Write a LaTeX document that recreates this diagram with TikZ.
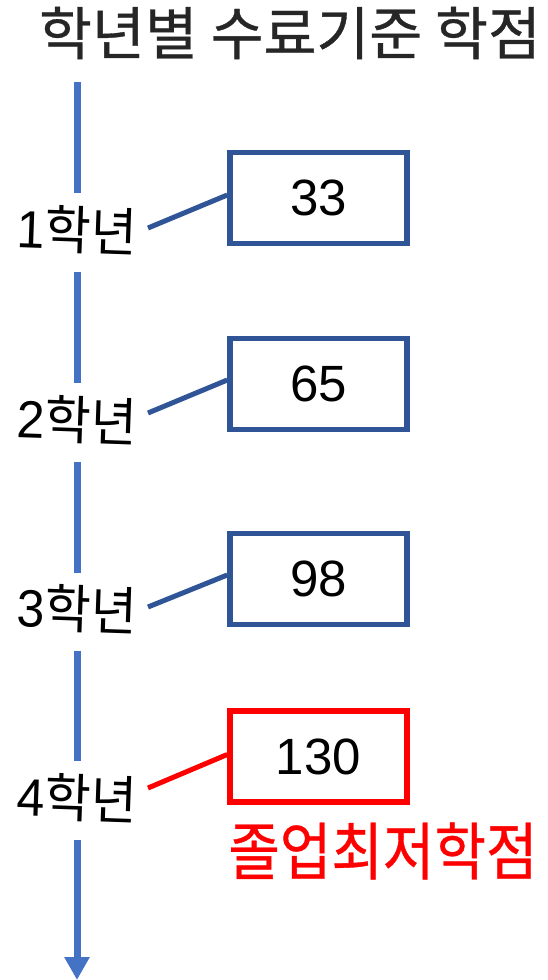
\documentclass[tikz,border=0pt]{standalone}
\usepackage{fontspec}
\setmainfont{Liberation Sans}
\newfontfamily\kr{Noto Sans CJK KR}
\newfontfamily\krb[FakeBold=0.6]{Noto Sans CJK KR}
\usetikzlibrary{arrows.meta}
\definecolor{axisblue}{HTML}{4472C4}
\definecolor{boxblue}{HTML}{2F5597}
\definecolor{titlegray}{HTML}{262626}
\tikzset{
  axisline/.style={draw=axisblue, line width=7pt},
  valbox/.style={draw=boxblue, line width=5.5pt, minimum width=177pt, minimum height=91pt, inner sep=0pt,
    font=\fontsize{51}{56}\selectfont},
  redbox/.style={valbox, draw=red},
  yearlabel/.style={inner sep=0pt, rotate=-2, yscale=1.05, font=\fontsize{50}{56}\selectfont},
  conn/.style={draw=boxblue, line width=5pt},
  redconn/.style={draw=red, line width=5pt},
}
\begin{document}
\begin{tikzpicture}[x=1pt, y=-1pt]
\path[use as bounding box] (0,0) rectangle (548,980);
\node[inner sep=0pt, text=titlegray, font=\krb\fontsize{57.5}{62}\selectfont] (title) at (290,33) {학년별 수료기준 학점};
% axis
\coordinate (a0) at (77,82);
\coordinate (a1) at (77,193);
\coordinate (a2) at (77,272);
\coordinate (a3) at (77,383);
\coordinate (a4) at (77,462);
\coordinate (a5) at (77,573);
\coordinate (a6) at (77,651);
\coordinate (a7) at (77,761);
\coordinate (a8) at (77,840);
\coordinate (a9) at (77,980);
\draw[axisline] (a0) -- (a1);
\draw[axisline] (a2) -- (a3);
\draw[axisline] (a4) -- (a5);
\draw[axisline] (a6) -- (a7);
\draw[axisline, -{Triangle[width=24pt,length=23pt]}] (a8) -- (a9);
% year labels
\node[yearlabel] (l1) at (77,230) {1{\kr 학년}};
\node[yearlabel] (l2) at (77,420) {2{\kr 학년}};
\node[yearlabel] (l3) at (77,609) {3{\kr 학년}};
\node[yearlabel] (l4) at (77,798) {4{\kr 학년}};
% boxes
\node[valbox] (b1) at (318.5,198) {33};
\node[valbox] (b2) at (318.5,384) {65};
\node[valbox] (b3) at (318.5,579) {98};
\node[redbox] (b4) at (318.5,756.5) {130};
\node[inner sep=0pt, text=red, yscale=1.12, font=\krb\fontsize{56}{60}\selectfont] (grad) at (383,851) {졸업최저학점};
% connectors
\coordinate (s1) at (148,228);
\coordinate (s2) at (148,413);
\coordinate (s3) at (148,607);
\coordinate (s4) at (148,788);
\draw[conn] (s1) -- ([yshift=3pt]b1.west);
\draw[conn] (s2) -- ([yshift=4pt]b2.west);
\draw[conn] (s3) -- ([yshift=4pt]b3.west);
\draw[redconn] (s4) -- ([yshift=2pt]b4.west);
\end{tikzpicture}
\end{document}
